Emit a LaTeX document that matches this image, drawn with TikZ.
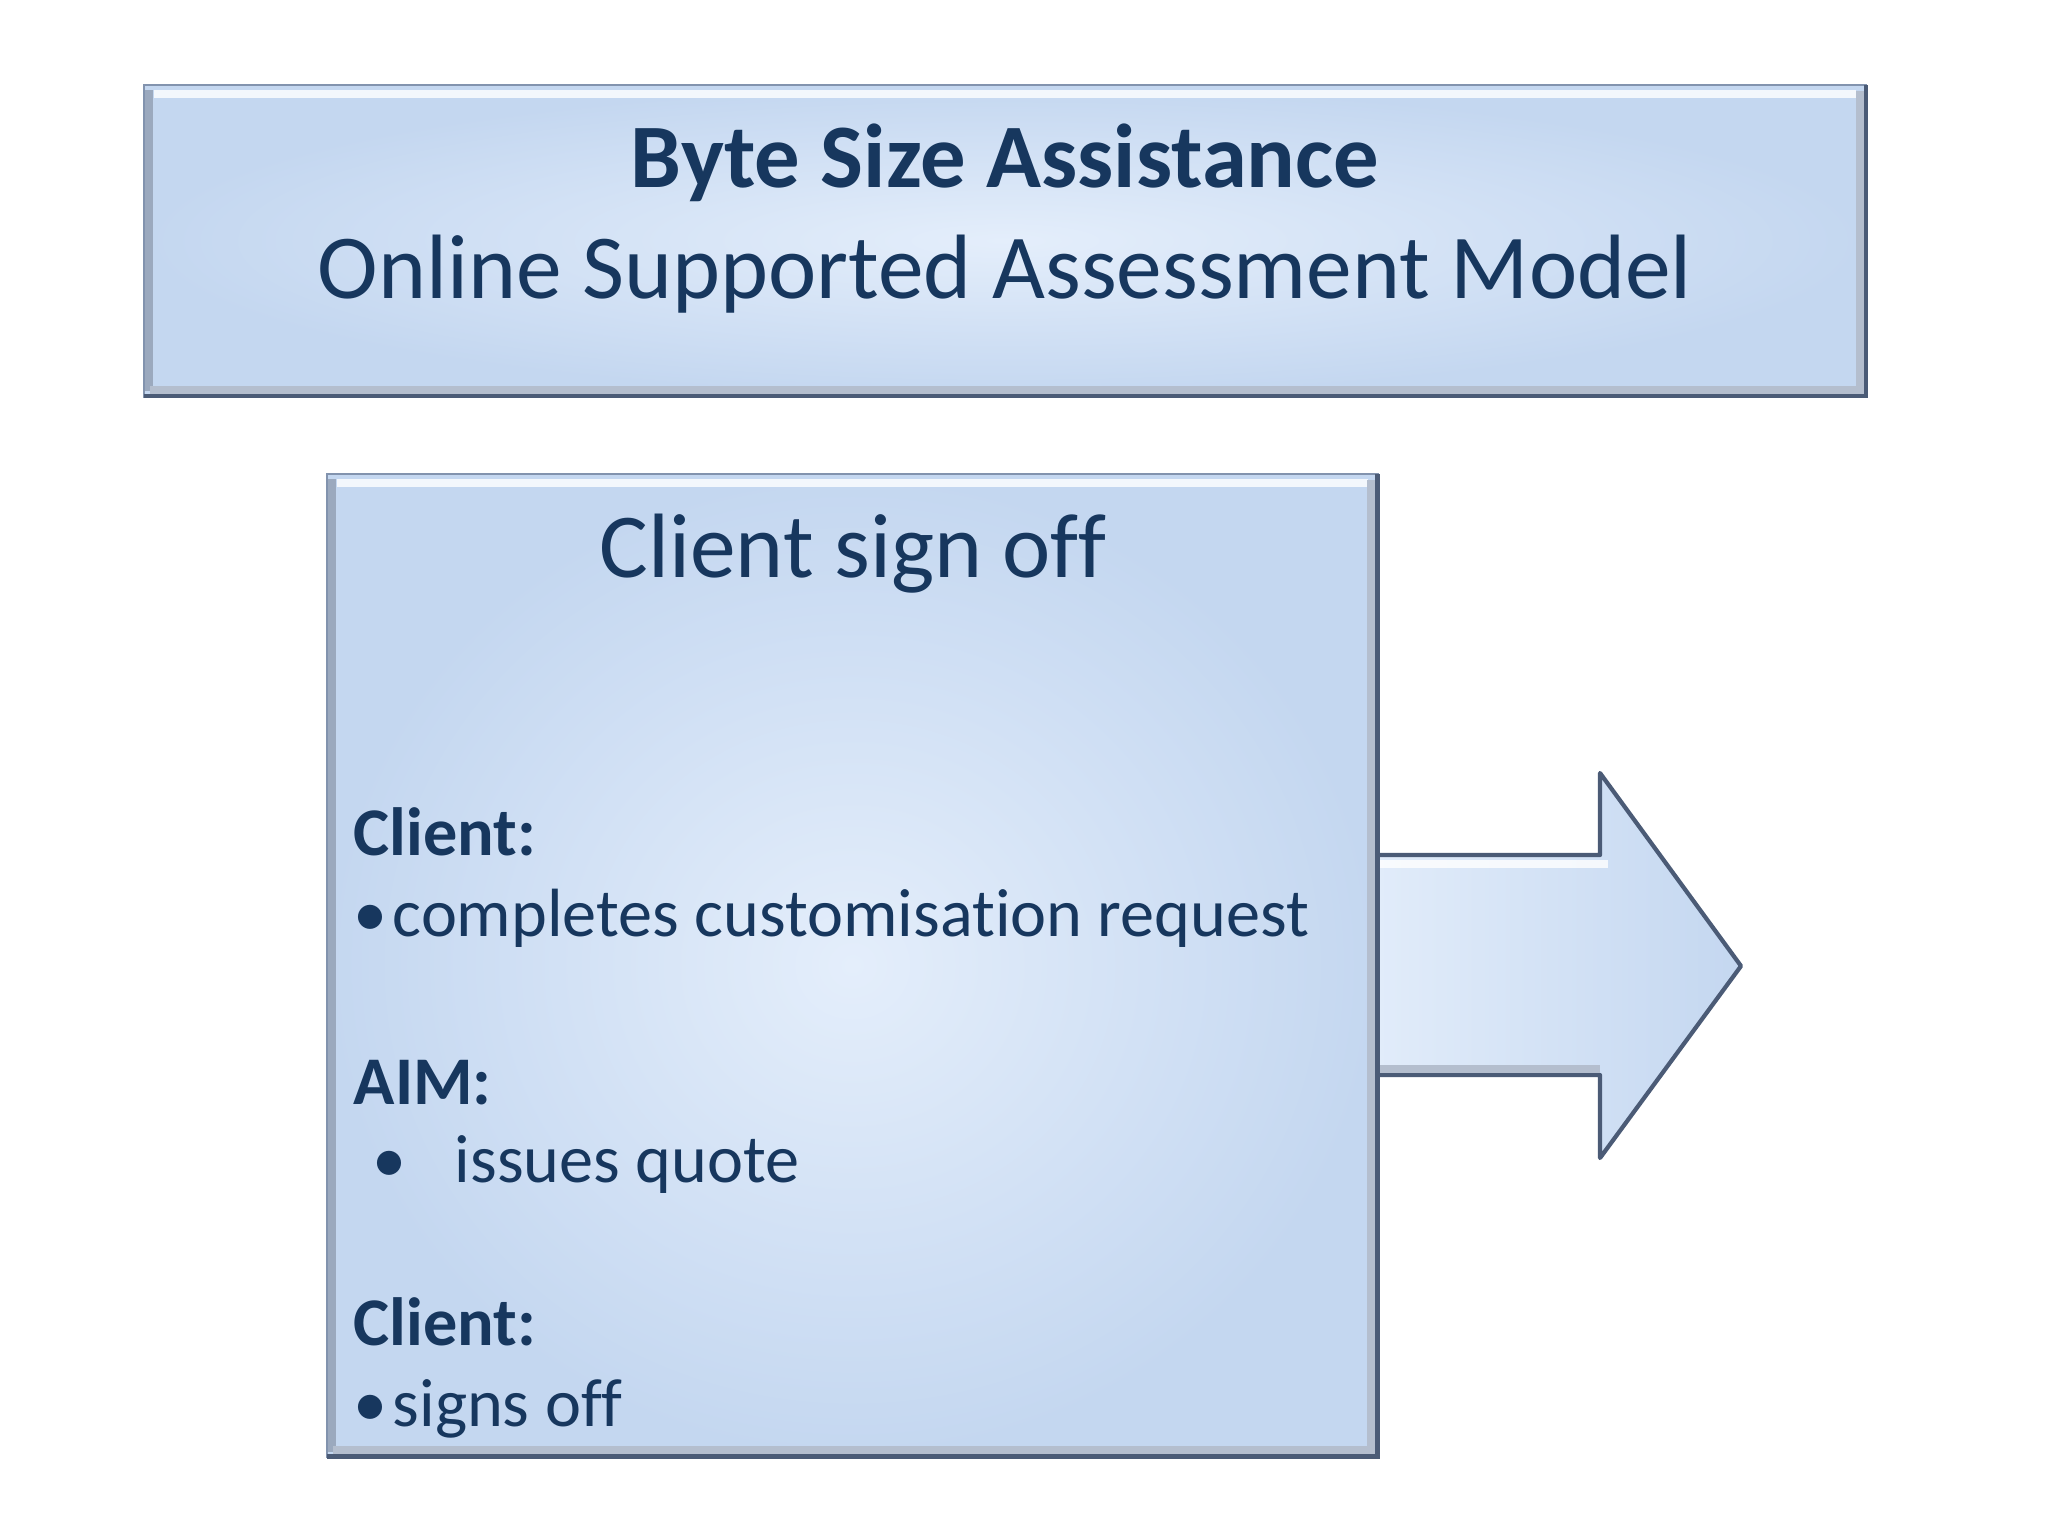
\documentclass[tikz,border=0pt]{standalone}
\usepackage{fontspec}
\setmainfont{Carlito}[Ligatures=NoCommon]
\usetikzlibrary{calc}
\definecolor{navy}{HTML}{17375E}
\definecolor{boxedge}{HTML}{8293AE}
\definecolor{boxdark}{HTML}{4B5B76}
\definecolor{boxfill}{HTML}{C4D7F0}
\definecolor{boxlight}{HTML}{E4EEFB}

\begin{document}
\begin{tikzpicture}[x=0.01cm, y=-0.01cm,
    panel/.style={draw=boxedge, line width=0.8pt, shading=radial,
        inner color=boxlight, outer color=boxfill,
        anchor=north west, inner sep=0pt, outer sep=0pt},
    txt/.style={text=navy, inner sep=0pt}]
    \useasboundingbox (0,0) rectangle (2048,1536);

    % arrow behind the stage box
    \coordinate (S1) at (1340, 855);
    \coordinate (S2) at (1600, 855);
    \coordinate (H1) at (1600, 773);
    \coordinate (T)  at (1741, 966);
    \coordinate (H2) at (1600, 1158);
    \coordinate (S3) at (1600, 1075);
    \coordinate (S4) at (1340, 1075);
    \shade[left color=boxlight, right color=boxfill]
        (S1) -- (S2) -- (H1) -- (T) -- (H2) -- (S3) -- (S4) -- cycle;
    \draw[white, line width=2.5pt, opacity=.8] ($(S1)+(0,9)$) -- ($(S2)+(8,9)$);
    \draw[boxdark, line width=1.2pt, line join=round]
        (S1) -- (S2) -- (H1) -- (T) -- (H2) -- (S3) -- (S4);
    \draw[boxedge!60, line width=2.5pt] ($(S4)+(0,-6)$) -- ($(S3)+(0,-6)$);

    % title box
    \node[panel, minimum width=17.21cm, minimum height=3.11cm] (title) at (144, 85) {};

    % stage box
    \node[panel, minimum width=10.5cm, minimum height=9.82cm] (stage) at (327, 474) {};

    % bevel of both boxes
    \foreach \b in {title, stage} {
        \draw[white, line width=2.5pt, opacity=.8]
            ($(\b.north west)+(10,9)$) -- ($(\b.north east)+(-10,9)$);
        \draw[boxedge!80, line width=2.5pt]
            ($(\b.north west)+(5,5)$) -- ($(\b.south west)+(5,-5)$);
        \draw[boxedge!60, line width=2.5pt]
            ($(\b.north east)+(-6,6)$) -- ($(\b.south east)+(-6,-6)$) -- ($(\b.south west)+(6,-6)$);
        \draw[boxdark, line width=1.3pt]
            (\b.north east) -- (\b.south east) -- (\b.south west);
    }

    % title text
    \node[txt, anchor=base, font=\fontsize{25.8}{30}\selectfont\bfseries] (bsa) at (1005, 187) {Byte Size Assistance};
    \node[txt, anchor=base, font=\fontsize{26}{30}\selectfont] (osam) at (1005, 298) {Online Supported Assessment Model};

    % stage heading
    \node[txt, anchor=base, font=\fontsize{26}{30}\selectfont] (head) at (853, 577) {Client sign off};

    % stage steps
    \begin{scope}[every node/.style={txt, anchor=base west, font=\fontsize{19.4}{24}\selectfont}]
        \node[font=\fontsize{19.4}{24}\selectfont\bfseries] (who1) at (353, 855) {Client:};
        \node (dot1) at (353, 936) {•};
        \node (step1) at (392, 936) {completes customisation request};
        \node[font=\fontsize{19.4}{24}\selectfont\bfseries] (who2) at (353, 1104) {AIM:};
        \node (dot2) at (372, 1182) {•};
        \node (step2) at (454, 1182) {issues quote};
        \node[font=\fontsize{19.4}{24}\selectfont\bfseries] (who3) at (353, 1345) {Client:};
        \node (dot3) at (353, 1426) {•};
        \node (step3) at (392, 1426) {signs off};
    \end{scope}
\end{tikzpicture}
\end{document}
